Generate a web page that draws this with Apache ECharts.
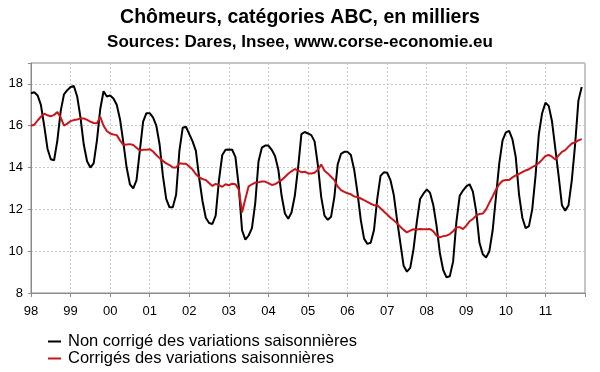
<!DOCTYPE html>
<html>
<head>
<meta charset="utf-8">
<script src="https://cdn.jsdelivr.net/npm/echarts@6/dist/echarts.min.js"></script>
<style>
html,body{margin:0;padding:0;background:#fff;}
#chart{width:600px;height:372px;}
</style>
</head>
<body>
<div id="chart"></div>
<script>
var titleText = 'Chômeurs, catégories ABC, en milliers';
var subtitleText = 'Sources: Dares, Insee, www.corse-economie.eu';
var seriesNames = ['Non corrigé des variations saisonnières', 'Corrigés des variations saisonnières'];
var startYear = 1998;
var xTickLabels = ['98','99','00','01','02','03','04','05','06','07','08','09','10','11'];
var yTicks = [8, 10, 12, 14, 16, 18];

// Non corrigé (monthly, Jan 1998 - Dec 2011)
var nonCorrige = [
  17.55,17.6,17.45,17.0,16.0,14.9,14.4,14.35,15.3,16.7,17.5,17.7,
  17.85,17.9,17.4,16.4,15.1,14.3,14.0,14.2,15.3,16.8,17.65,17.4,
  17.45,17.3,17.0,16.3,15.2,14.0,13.2,13.0,13.4,14.8,16.2,16.6,
  16.6,16.4,16.0,15.1,13.6,12.5,12.1,12.1,12.7,14.8,15.9,15.95,
  15.6,15.25,14.8,13.5,12.4,11.6,11.35,11.3,11.7,13.4,14.6,14.85,
  14.86,14.85,14.5,13.1,11.0,10.55,10.75,11.1,12.3,14.3,14.95,15.05,
  15.05,14.85,14.55,13.9,12.65,11.8,11.55,11.85,12.65,14.0,15.6,15.7,
  15.63,15.55,15.25,14.1,12.6,11.7,11.5,11.65,12.6,14.15,14.65,14.75,
  14.75,14.6,13.9,12.8,11.5,10.6,10.35,10.4,11.0,12.5,13.6,13.77,
  13.75,13.4,12.7,11.5,10.4,9.3,9.02,9.2,10.1,11.4,12.5,12.75,
  12.95,12.8,12.2,11.2,9.9,9.1,8.75,8.8,9.5,11.4,12.65,12.9,
  13.1,13.2,12.85,11.9,10.4,9.85,9.7,10.0,11.0,12.6,14.2,15.3,
  15.68,15.75,15.35,14.5,12.7,11.6,11.1,11.2,12.0,13.6,15.6,16.6,
  17.1,16.95,16.2,14.9,13.6,12.2,11.94,12.2,13.4,15.1,17.2,17.85
];

// Corrigés (monthly, Jan 1998 - Dec 2011)
var corriges = [
  16.0,16.05,16.25,16.43,16.58,16.5,16.45,16.52,16.65,16.4,16.0,16.1,
  16.22,16.27,16.3,16.35,16.35,16.28,16.2,16.13,16.12,16.42,16.0,15.75,
  15.63,15.58,15.55,15.3,15.08,15.1,15.12,15.08,14.95,14.82,14.85,14.85,
  14.88,14.77,14.6,14.45,14.32,14.2,14.12,14.0,14.0,14.2,14.18,14.18,
  14.05,13.9,13.68,13.54,13.45,13.4,13.26,13.12,13.22,13.16,13.08,13.2,
  13.15,13.23,13.2,12.95,11.85,12.5,13.1,13.2,13.28,13.3,13.33,13.33,
  13.25,13.17,13.2,13.3,13.4,13.55,13.7,13.82,13.93,13.85,13.78,13.8,
  13.72,13.72,13.75,13.9,14.15,13.85,13.72,13.56,13.4,13.1,12.92,12.84,
  12.77,12.72,12.62,12.59,12.52,12.44,12.36,12.27,12.2,12.2,12.05,11.9,
  11.75,11.6,11.48,11.33,11.17,11.02,10.9,10.98,11.05,11.04,11.06,11.05,
  11.05,11.06,10.95,10.74,10.66,10.72,10.74,10.82,10.95,11.15,11.15,11.06,
  11.22,11.43,11.54,11.7,11.78,11.8,12.0,12.32,12.62,12.95,13.2,13.37,
  13.4,13.4,13.53,13.62,13.7,13.78,13.86,13.92,14.02,14.1,14.22,14.38,
  14.55,14.6,14.52,14.38,14.58,14.75,14.83,15.0,15.15,15.2,15.3,15.36
];

function toPoints(arr) {
  return arr.map(function (v, i) { return [startYear + i / 12, v]; });
}

var FONT = "'Liberation Sans', Arial, sans-serif";
var legendBase = {
  orient: 'horizontal', left: 48, itemWidth: 13, itemHeight: 2, icon: 'rect', padding: 0,
  selectedMode: false,
  textStyle: {fontFamily: FONT, fontSize: 16.5, color: '#000', padding: [0, 0, 0, 2]}
};
var chart = echarts.init(document.getElementById('chart'), null, {renderer: 'canvas'});
chart.setOption({
  animation: false,
  backgroundColor: '#ffffff',
  title: [
    {text: titleText, left: 'center', top: 8, padding: 0,
     textStyle: {fontFamily: FONT, fontSize: 19.5, fontWeight: 'bold', color: '#000'}},
    {text: subtitleText, left: 'center', top: 34, padding: 0,
     textStyle: {fontFamily: FONT, fontSize: 17, fontWeight: 'bold', color: '#000'}}
  ],
  legend: [
    Object.assign({}, legendBase, {top: 333, data: [seriesNames[0]]}),
    Object.assign({}, legendBase, {top: 350, data: [seriesNames[1]]})
  ],
  grid: {left: 31, right: 15, top: 63, bottom: 79, show: true, borderColor: '#8a8a8a', borderWidth: 1},
  xAxis: {
    type: 'value', min: startYear, max: startYear + xTickLabels.length, interval: 1,
    axisLine: {show: true, lineStyle: {color: '#8a8a8a', width: 1}},
    axisTick: {show: true, length: 4, lineStyle: {color: '#8a8a8a'}},
    splitLine: {show: true, lineStyle: {color: '#c8c8c8', type: [2, 2]}},
    axisLabel: {
      fontFamily: FONT, fontSize: 13, color: '#000', margin: 12,
      formatter: function (v) {
        var idx = Math.round(v - startYear);
        return xTickLabels[idx] || '';
      }
    }
  },
  yAxis: {
    type: 'value', min: 8, max: 19, interval: 2,
    axisLine: {show: true, lineStyle: {color: '#8a8a8a', width: 1}},
    axisTick: {show: true, length: 3, lineStyle: {color: '#8a8a8a'}},
    splitLine: {show: true, lineStyle: {color: '#c8c8c8', type: [2, 2]}},
    axisLabel: {
      fontFamily: FONT, fontSize: 13, color: '#000', margin: 8,
      formatter: function (v) { return yTicks.indexOf(v) >= 0 ? String(v) : ''; }
    }
  },
  series: [
    {name: seriesNames[0], type: 'line', data: toPoints(nonCorrige), showSymbol: false,
     lineStyle: {color: '#000000', width: 2}, itemStyle: {color: '#000000'}, z: 3},
    {name: seriesNames[1], type: 'line', data: toPoints(corriges), showSymbol: false,
     lineStyle: {color: '#c8161d', width: 2}, itemStyle: {color: '#c8161d'}, z: 4}
  ]
});
</script>
</body>
</html>
